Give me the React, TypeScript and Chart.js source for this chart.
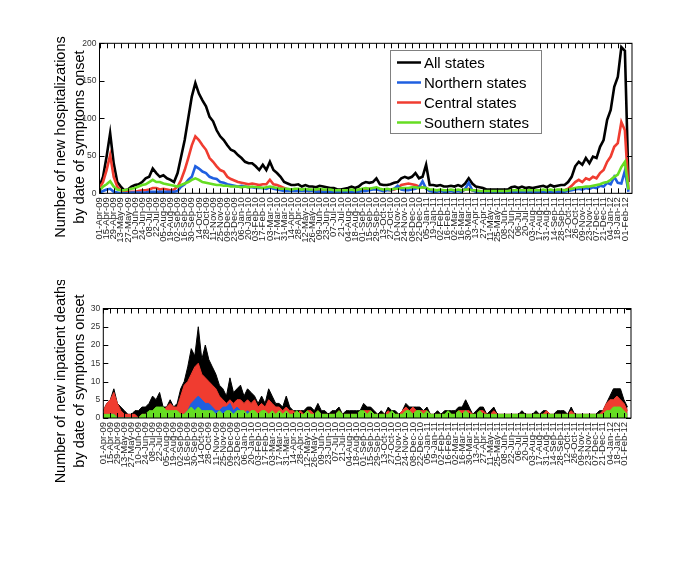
import React, { useEffect, useRef } from "react";
import { Chart, registerables } from "chart.js";
Chart.register(...registerables);

// Tick labels: every 14 days starting 01-Apr-09 (x value = days since 01-Apr-09)
const tickLabels = [
  "01-Apr-09", "15-Apr-09", "29-Apr-09", "13-May-09", "27-May-09", "10-Jun-09", "24-Jun-09", "08-Jul-09", "22-Jul-09",
  "05-Aug-09", "19-Aug-09", "02-Sep-09", "16-Sep-09", "30-Sep-09", "14-Oct-09", "28-Oct-09", "11-Nov-09", "25-Nov-09",
  "09-Dec-09", "23-Dec-09", "06-Jan-10", "20-Jan-10", "03-Feb-10", "17-Feb-10", "03-Mar-10", "17-Mar-10", "31-Mar-10",
  "14-Apr-10", "28-Apr-10", "12-May-10", "26-May-10", "09-Jun-10", "23-Jun-10", "07-Jul-10", "21-Jul-10", "04-Aug-10",
  "18-Aug-10", "01-Sep-10", "15-Sep-10", "29-Sep-10", "13-Oct-10", "27-Oct-10", "10-Nov-10", "24-Nov-10", "08-Dec-10",
  "22-Dec-10", "05-Jan-11", "19-Jan-11", "02-Feb-11", "16-Feb-11", "02-Mar-11", "16-Mar-11", "30-Mar-11", "13-Apr-11",
  "27-Apr-11", "11-May-11", "25-May-11", "08-Jun-11", "22-Jun-11", "06-Jul-11", "20-Jul-11", "03-Aug-11", "17-Aug-11",
  "31-Aug-11", "14-Sep-11", "28-Sep-11", "12-Oct-11", "26-Oct-11", "09-Nov-11", "23-Nov-11", "07-Dec-11", "21-Dec-11",
  "04-Jan-12", "18-Jan-12", "01-Feb-12",
];
const tickStepDays = 14;
const axisMaxDays = 1050;
const readingStepDays = 7; // one reading per week, from 01-Apr-09

const seriesNames = ["All states", "Northern states", "Central states", "Southern states"];
const seriesColors = ["#000000", "#1f5fe0", "#f03c30", "#66dd22"];

// New hospitalizations (weekly readings)
const hospAll = [
  9, 22, 49, 80, 40, 15, 9, 4, 5, 9,
  11, 12, 15, 20, 22, 33, 27, 22, 24, 20,
  18, 15, 27, 49, 71, 100, 129, 147, 133, 124,
  116, 102, 96, 84, 76, 71, 64, 58, 56, 51,
  47, 42, 40, 40, 36, 31, 38, 31, 42, 31,
  27, 22, 15, 13, 11, 11, 12, 9, 11, 9,
  9, 8, 10, 9, 8, 7, 7, 5, 5, 6,
  7, 9, 7, 9, 13, 15, 14, 15, 20, 12,
  11, 11, 12, 14, 15, 20, 22, 20, 22, 27,
  20, 22, 38, 11, 11, 10, 11, 9, 9, 10,
  9, 11, 9, 13, 20, 13, 9, 8, 7, 5,
  5, 5, 5, 5, 5, 5, 8, 9, 7, 9,
  7, 8, 7, 8, 9, 10, 8, 11, 9, 10,
  11, 11, 15, 22, 36, 42, 38, 47, 40, 49,
  47, 62, 71, 98, 111, 142, 155, 195, 190, 15,
];
const hospNorth = [
  1, 3, 5, 6, 2, 1, 0, 0, 0, 1,
  1, 1, 1, 1, 2, 2, 2, 2, 2, 2,
  2, 2, 3, 9, 12, 18, 22, 36, 33, 29,
  27, 22, 20, 19, 15, 14, 12, 11, 10, 9,
  10, 9, 8, 8, 7, 7, 7, 6, 8, 6,
  5, 4, 3, 3, 3, 3, 3, 3, 3, 3,
  3, 2, 2, 2, 2, 2, 2, 2, 2, 2,
  2, 2, 2, 2, 3, 3, 4, 5, 5, 4,
  3, 4, 4, 6, 10, 5, 4, 4, 5, 6,
  8, 16, 6, 3, 2, 2, 3, 2, 2, 3,
  2, 3, 2, 6, 14, 4, 2, 2, 1, 1,
  1, 1, 1, 1, 1, 1, 2, 2, 1, 2,
  1, 2, 1, 2, 2, 2, 2, 2, 2, 2,
  2, 2, 3, 4, 5, 6, 5, 7, 6, 8,
  7, 10, 9, 14, 12, 22, 14, 13, 30, 2,
];
const hospCentral = [
  7, 15, 31, 51, 22, 9, 4, 3, 2, 2,
  2, 3, 4, 4, 5, 7, 7, 5, 6, 5,
  4, 5, 9, 18, 31, 47, 64, 76, 71, 64,
  58, 47, 42, 36, 31, 29, 22, 19, 17, 15,
  14, 13, 12, 13, 12, 11, 12, 12, 18, 12,
  11, 9, 7, 5, 5, 5, 5, 4, 4, 3,
  4, 3, 4, 3, 3, 3, 3, 3, 3, 3,
  3, 3, 3, 4, 5, 5, 6, 6, 7, 5,
  4, 5, 4, 5, 7, 11, 12, 13, 12, 11,
  9, 8, 7, 4, 3, 3, 4, 3, 3, 4,
  3, 4, 3, 5, 6, 4, 3, 3, 2, 2,
  2, 2, 2, 2, 3, 2, 3, 3, 3, 3,
  3, 3, 3, 3, 4, 3, 3, 4, 3, 4,
  4, 4, 6, 10, 15, 18, 15, 20, 18, 22,
  20, 27, 31, 42, 49, 62, 67, 95, 84, 5,
];
const hospSouth = [
  4, 9, 12, 16, 9, 5, 4, 4, 5, 6,
  7, 9, 11, 12, 15, 18, 15, 15, 13, 12,
  11, 10, 9, 11, 13, 15, 18, 20, 18, 15,
  14, 13, 12, 11, 11, 10, 10, 9, 9, 9,
  8, 9, 8, 9, 8, 8, 7, 8, 9, 8,
  7, 6, 6, 6, 5, 6, 6, 5, 6, 5,
  5, 5, 6, 5, 5, 5, 4, 4, 4, 4,
  4, 5, 4, 5, 6, 7, 6, 7, 8, 6,
  5, 6, 5, 6, 6, 7, 7, 7, 8, 8,
  7, 8, 7, 5, 5, 4, 5, 4, 4, 5,
  4, 5, 4, 5, 5, 4, 4, 3, 3, 3,
  3, 3, 3, 3, 3, 3, 4, 4, 4, 4,
  4, 4, 4, 4, 4, 5, 4, 5, 4, 5,
  5, 4, 5, 6, 7, 8, 8, 9, 9, 10,
  11, 12, 14, 15, 18, 22, 25, 35, 42, 5,
];

// New inpatient deaths (weekly readings)
const deathsAll = [
  2, 4, 5, 8, 4, 3, 2, 1, 1, 2,
  2, 3, 3, 4, 6, 5, 7, 3, 3, 5,
  3, 4, 8, 10, 14, 19, 17, 25, 16, 20,
  16, 14, 12, 9, 8, 6, 11, 7, 8, 9,
  6, 8, 7, 6, 4, 6, 4, 8, 6, 4,
  4, 3, 6, 3, 2, 2, 2, 2, 3, 3,
  2, 4, 2, 2, 1, 2, 2, 3, 1, 2,
  2, 2, 2, 2, 4, 3, 3, 2, 1, 2,
  1, 3, 2, 2, 1, 2, 4, 3, 3, 3,
  3, 2, 3, 1, 1, 2, 1, 2, 2, 2,
  2, 3, 3, 5, 3, 1, 2, 3, 3, 1,
  2, 3, 1, 1, 1, 1, 1, 1, 1, 2,
  1, 1, 1, 2, 1, 2, 2, 1, 1, 2,
  2, 2, 1, 3, 1, 1, 1, 1, 1, 1,
  1, 2, 2, 4, 6, 8, 8, 8, 5, 3,
];
const deathsNorth = [
  1, 0, 1, 1, 0, 0, 0, 0, 0, 0,
  0, 0, 0, 0, 0, 0, 0, 0, 0, 0,
  0, 0, 0, 1, 2, 4, 5, 6, 5, 4,
  4, 3, 2, 2, 3, 3, 4, 2, 3, 2,
  1, 2, 1, 1, 1, 1, 1, 1, 1, 1,
  0, 0, 1, 0, 0, 0, 0, 0, 0, 0,
  0, 0, 0, 0, 0, 0, 0, 0, 0, 0,
  0, 0, 0, 0, 0, 0, 0, 0, 0, 0,
  0, 0, 0, 0, 0, 0, 1, 0, 0, 0,
  0, 1, 1, 0, 0, 0, 0, 0, 0, 0,
  0, 0, 0, 2, 1, 0, 0, 0, 0, 0,
  0, 0, 0, 0, 0, 0, 0, 1, 0, 1,
  0, 0, 0, 0, 0, 0, 0, 0, 0, 0,
  0, 0, 0, 0, 0, 0, 0, 0, 0, 0,
  0, 0, 0, 0, 0, 1, 0, 0, 0, 0,
];
const deathsCentral = [
  2, 4, 5, 7, 4, 2, 1, 1, 1, 1,
  0, 1, 1, 1, 2, 2, 2, 2, 3, 4,
  3, 3, 6, 9, 10, 12, 14, 15, 12, 11,
  10, 9, 8, 6, 5, 4, 5, 4, 5, 5,
  4, 5, 4, 5, 3, 4, 3, 5, 4, 3,
  3, 2, 3, 2, 2, 1, 2, 1, 2, 2,
  1, 2, 1, 1, 1, 1, 1, 2, 1, 1,
  1, 1, 1, 1, 2, 2, 2, 1, 1, 1,
  1, 2, 1, 1, 1, 2, 3, 2, 3, 2,
  2, 2, 2, 1, 1, 1, 1, 1, 1, 1,
  1, 2, 2, 2, 2, 1, 1, 2, 2, 1,
  1, 2, 1, 1, 1, 1, 1, 1, 1, 1,
  1, 1, 1, 1, 1, 1, 2, 1, 1, 1,
  1, 1, 1, 2, 1, 1, 1, 1, 1, 1,
  1, 1, 2, 4, 5, 5, 6, 5, 4, 2,
];
const deathsSouth = [
  1, 1, 1, 1, 0, 0, 0, 0, 0, 0,
  0, 1, 1, 2, 2, 3, 3, 3, 2, 2,
  2, 2, 1, 1, 2, 3, 2, 3, 2, 2,
  2, 2, 1, 2, 1, 2, 2, 1, 2, 2,
  2, 1, 2, 2, 1, 2, 2, 1, 2, 1,
  2, 1, 2, 1, 1, 2, 1, 1, 2, 1,
  1, 2, 1, 1, 1, 1, 1, 2, 1, 1,
  1, 1, 1, 2, 2, 1, 2, 1, 1, 1,
  1, 1, 2, 1, 1, 1, 2, 2, 1, 2,
  2, 1, 2, 1, 1, 1, 1, 1, 2, 1,
  1, 2, 1, 2, 1, 1, 1, 2, 1, 1,
  1, 1, 1, 1, 1, 1, 1, 1, 1, 1,
  1, 1, 1, 1, 1, 1, 1, 1, 1, 1,
  1, 1, 1, 1, 1, 1, 1, 1, 1, 1,
  1, 1, 1, 2, 2, 3, 3, 3, 2, 1,
];

const hospTitle = ["Number of new hospitalizations", "by date of symptoms onset"];
const deathTitle = ["Number of new inpatient deaths", "by date of symptoms onset"];
const hospYTicks = { max: 200, step: 50 };
const deathYTicks = { max: 30, step: 5 };

const FONT = '"Liberation Sans", Arial, Helvetica, sans-serif';

type Panel = {
  height: number;
  box: { left: number; right: number; top: number; bottom: number };
  yMax: number;
  yStep: number;
  series: number[][];
  fill: boolean;
  lineWidth: number;
  title: string[];
  titleX: number[];
  titleCY: number;
  legend: boolean;
};

function toPoints(arr: number[]) {
  return arr.map((v, i) => ({ x: i * readingStepDays, y: v }));
}

function makeConfig(p: Panel): any {
  const W = 698;
  // draw order: black back, then red, blue, green on top
  const drawOrder = [4, 2, 3, 1];
  const datasets = p.series.map((s, i) => ({
    label: seriesNames[i],
    data: toPoints(s),
    borderColor: seriesColors[i],
    backgroundColor: seriesColors[i],
    borderWidth: p.lineWidth,
    pointRadius: 0,
    tension: 0,
    fill: p.fill ? "origin" : false,
    order: drawOrder[i],
  }));

  const framePlugin = {
    id: "frame",
    afterDatasetsDraw(chart: any) {
      const { ctx, chartArea: a, scales } = chart;
      ctx.save();
      ctx.strokeStyle = "#000";
      ctx.lineWidth = 1;
      ctx.strokeRect(a.left, a.top, a.right - a.left, a.bottom - a.top);
      const L = 5;
      ctx.beginPath();
      scales.x.ticks.forEach((t: any) => {
        const px = Math.round(scales.x.getPixelForValue(t.value)) + 0.5;
        ctx.moveTo(px, a.top);
        ctx.lineTo(px, a.top + L);
        ctx.moveTo(px, a.bottom);
        ctx.lineTo(px, a.bottom - L);
      });
      scales.y.ticks.forEach((t: any) => {
        const py = Math.round(scales.y.getPixelForValue(t.value)) + 0.5;
        ctx.moveTo(a.left, py);
        ctx.lineTo(a.left + L, py);
        ctx.moveTo(a.right, py);
        ctx.lineTo(a.right - L, py);
      });
      ctx.stroke();
      ctx.restore();
    },
    afterDraw(chart: any) {
      const { ctx } = chart;
      ctx.save();
      ctx.fillStyle = "#000";
      ctx.font = `14.5px ${FONT}`;
      ctx.textAlign = "center";
      ctx.textBaseline = "middle";
      p.title.forEach((line, i) => {
        ctx.save();
        ctx.translate(p.titleX[i], p.titleCY);
        ctx.rotate(-Math.PI / 2);
        ctx.fillText(line, 0, 0);
        ctx.restore();
      });
      if (p.legend) {
        const bx = 390.5, by = 50.5, bw = 151, bh = 83;
        ctx.fillStyle = "#fff";
        ctx.fillRect(bx, by, bw, bh);
        ctx.strokeStyle = "#808080";
        ctx.lineWidth = 1;
        ctx.strokeRect(bx, by, bw, bh);
        ctx.font = `15px ${FONT}`;
        ctx.textAlign = "left";
        ctx.textBaseline = "middle";
        seriesNames.forEach((name, i) => {
          const y = 62.5 + i * 20;
          ctx.strokeStyle = seriesColors[i];
          ctx.lineWidth = 2.5;
          ctx.beginPath();
          ctx.moveTo(397, y);
          ctx.lineTo(421, y);
          ctx.stroke();
          ctx.fillStyle = "#000";
          ctx.fillText(name, 424, y + 1);
        });
      }
      ctx.restore();
    },
  };

  return {
    type: "line",
    data: { datasets },
    plugins: [framePlugin],
    options: {
      animation: false,
      responsive: false,
      devicePixelRatio: 1,
      events: [],
      layout: { padding: { left: 0, top: p.box.top, right: W - p.box.right, bottom: 0 } },
      plugins: { legend: { display: false }, tooltip: { enabled: false }, title: { display: false } },
      scales: {
        x: {
          type: "linear",
          min: 0,
          max: axisMaxDays,
          afterBuildTicks: (scale: any) => {
            scale.ticks = tickLabels.map((_, i) => ({ value: i * tickStepDays }));
          },
          afterFit: (scale: any) => {
            scale.height = p.height - p.box.bottom;
          },
          grid: { display: false, drawTicks: false },
          border: { display: false },
          ticks: {
            autoSkip: false,
            minRotation: 90,
            maxRotation: 90,
            padding: 4,
            color: "#222",
            font: { family: FONT, size: 9.5 },
            callback: (_v: any, i: number) => tickLabels[i],
          },
        },
        y: {
          type: "linear",
          min: 0,
          max: p.yMax,
          afterFit: (scale: any) => {
            scale.width = p.box.left;
          },
          grid: { display: false, drawTicks: false },
          border: { display: false },
          ticks: {
            stepSize: p.yStep,
            padding: 3,
            color: "#333",
            font: { family: FONT, size: 8.5 },
          },
        },
      },
    },
  };
}

function ChartCanvas({ panel, top }: { panel: Panel; top: number }) {
  const ref = useRef<HTMLCanvasElement | null>(null);
  useEffect(() => {
    if (!ref.current) return;
    const chart = new Chart(ref.current, makeConfig(panel));
    return () => chart.destroy();
  }, [panel]);
  return (
    <canvas
      ref={ref}
      width={698}
      height={panel.height}
      style={{ position: "absolute", left: 0, top, width: 698, height: panel.height }}
    />
  );
}

const topPanel: Panel = {
  height: 280,
  box: { left: 99.5, right: 632, top: 43.3, bottom: 193.3 },
  yMax: hospYTicks.max,
  yStep: hospYTicks.step,
  series: [hospAll, hospNorth, hospCentral, hospSouth],
  fill: false,
  lineWidth: 2.6,
  title: hospTitle,
  titleX: [61, 80],
  titleCY: 137,
  legend: true,
};

const bottomPanel: Panel = {
  height: 282,
  box: { left: 103.3, right: 631, top: 28.5, bottom: 138 },
  yMax: deathYTicks.max,
  yStep: deathYTicks.step,
  series: [deathsAll, deathsNorth, deathsCentral, deathsSouth],
  fill: true,
  lineWidth: 1,
  title: deathTitle,
  titleX: [61, 80],
  titleCY: 101,
  legend: false,
};

export default function App() {
  return (
    <div style={{ position: "absolute", left: 0, top: 0, width: 698, height: 562, background: "#fff" }}>
      <ChartCanvas panel={topPanel} top={0} />
      <ChartCanvas panel={bottomPanel} top={280} />
    </div>
  );
}
